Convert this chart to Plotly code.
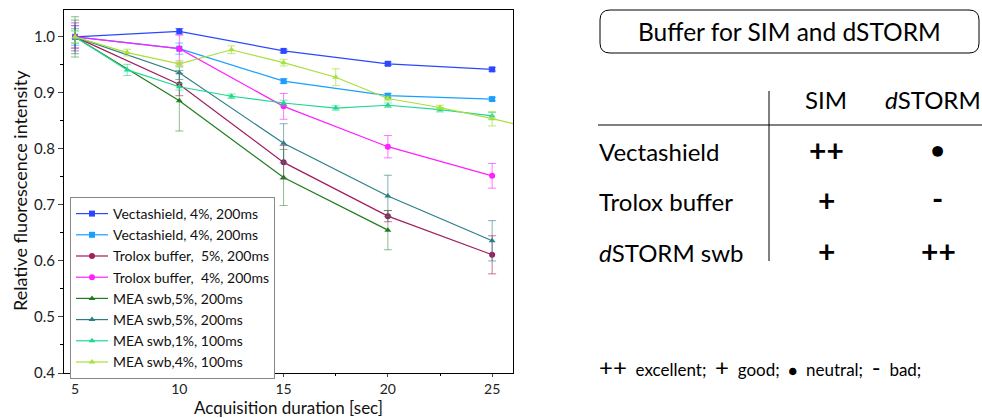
import plotly.graph_objects as go

# ---- data ----
x_long = [5, 10, 15, 20, 25]
x_mea5 = [5, 10, 15, 20]
x_fine = [5, 7.5, 10, 12.5, 15, 17.5, 20, 22.5, 25]
x_fine_ext = [5, 7.5, 10, 12.5, 15, 17.5, 20, 22.5, 25, 27.5]

names = ["Vectashield, 4%, 200ms", "Vectashield, 4%, 200ms", "Trolox buffer,  5%, 200ms",
         "Trolox buffer,  4%, 200ms", "MEA swb,5%, 200ms", "MEA swb,5%, 200ms",
         "MEA swb,1%, 100ms", "MEA swb,4%, 100ms"]

vecta_a = [1.0, 1.010, 0.975, 0.952, 0.942]
vecta_b = [1.0, 0.979, 0.921, 0.895, 0.889]
trolox_5 = [1.0, 0.915, 0.776, 0.680, 0.611]
trolox_4 = [1.0, 0.979, 0.876, 0.804, 0.752]
mea_5a = [1.0, 0.886, 0.749, 0.655]
mea_5b = [1.0, 0.936, 0.810, 0.716, 0.636]
mea_1 = [1.0, 0.941, 0.911, 0.894, 0.882, 0.873, 0.878, 0.870, 0.859]
mea_4 = [1.0, 0.972, 0.952, 0.977, 0.954, 0.928, 0.890, 0.874, 0.854, 0.832]

err_vecta_a = [0.02, 0.005, 0.003, 0.003, 0.003]
err_vecta_b = [0.015, 0.01, 0.004, 0.004, 0.003]
err_trolox_5 = [0.025, 0.02, 0.03, 0.01, 0.034]
err_trolox_4 = [0.02, 0.024, 0.023, 0.02, 0.022]
err_mea_5a = [0.036, 0.054, 0.05, 0.035]
err_mea_5b = [0.03, 0.012, 0.035, 0.037, 0.036]
err_mea_1 = [0.012, 0.01, 0.006, 0.004, 0.005, 0.004, 0.004, 0.004, 0.006]
err_mea_4 = [0.01, 0.006, 0.006, 0.007, 0.006, 0.015, 0.004, 0.004, 0.013, 0.0]

x_title = "Acquisition duration [sec]"
y_title = "Relative fluorescence intensity"

colors = ["#2b47ff", "#1a9fff", "#a01d5e", "#ff1fff", "#1e7d1e", "#2a7f86", "#1fd890", "#a8e03c"]
err_colors = ["rgba(43,71,255,0.6)", "rgba(26,159,255,0.6)", "rgba(160,29,94,0.6)", "rgba(255,31,255,0.6)",
              "rgba(30,125,30,0.5)", "rgba(42,127,134,0.6)", "rgba(31,216,144,0.6)", "rgba(168,224,60,0.7)"]
symbols = ["square", "square", "circle", "circle", "triangle-up", "triangle-up", "triangle-up", "triangle-up"]

xs = [x_long, x_long, x_long, x_long, x_mea5, x_long, x_fine, x_fine_ext]
ys = [vecta_a, vecta_b, trolox_5, trolox_4, mea_5a, mea_5b, mea_1, mea_4]
errs = [err_vecta_a, err_vecta_b, err_trolox_5, err_trolox_4, err_mea_5a, err_mea_5b, err_mea_1, err_mea_4]

FONT = "Lato"

fig = go.Figure()
for i in range(8):
    fig.add_trace(go.Scatter(
        x=xs[i], y=ys[i], name=names[i], mode="lines+markers",
        line=dict(color=colors[i], width=1.2),
        marker=dict(symbol=symbols[i], size=6, color=colors[i]),
        error_y=dict(type="data", array=errs[i], color=err_colors[i], thickness=1, width=4),
    ))

# pixel -> paper helpers (plot area: x 64..513, y 10..373)
L, R, T, B = 64, 513, 10, 373
def px(X):
    return (X - L) / (R - L)
def py(Y):
    return (B - Y) / (B - T)

ann = []
def add_text(X, Y, text, size, xanchor="center", color="#000", angle=0, pad=1):
    ann.append(dict(x=px(X), y=py(Y), xref="paper", yref="paper", text=text, showarrow=False,
                    xanchor=xanchor, yanchor="middle", textangle=angle, borderpad=pad,
                    font=dict(family=FONT, size=size, color=color)))

# axis titles
add_text(288.5, 407.5, x_title, 17, color="#111", pad=0)
add_text(20, 191, y_title, 18, color="#111", angle=-90)

# table on the right
add_text(789, 31, "Buffer for SIM and dSTORM", 24.5)
add_text(826, 100, "SIM", 24)
add_text(933, 100, "<i>d</i>STORM", 24)
add_text(597, 151, "Vectashield", 24, xanchor="left")
add_text(597, 201, "Trolox buffer", 24, xanchor="left")
add_text(597, 252, "<i>d</i>STORM swb", 24, xanchor="left")
add_text(826, 150, "<b>++</b>", 30)
add_text(937, 149, "●", 22)
add_text(826, 200, "<b>+</b>", 30)
add_text(937, 198, "<b>-</b>", 30)
add_text(826, 251, "<b>+</b>", 30)
add_text(938, 251, "<b>++</b>", 30)
add_text(597, 366, "<span style='font-size:24px'>++</span>  excellent;  "
                   "<span style='font-size:24px'>+</span>  good;  "
                   "<span style='font-size:15px'>●</span>  neutral;  "
                   "<span style='font-size:24px'>-</span>  bad;", 17, xanchor="left")

shapes = []
# rounded rectangle around title
x0, x1, y0, y1, r = 600, 979, 10, 53, 10
path = (f"M {px(x0 + r)} {py(y0)} L {px(x1 - r)} {py(y0)} Q {px(x1)} {py(y0)} {px(x1)} {py(y0 + r)} "
        f"L {px(x1)} {py(y1 - r)} Q {px(x1)} {py(y1)} {px(x1 - r)} {py(y1)} "
        f"L {px(x0 + r)} {py(y1)} Q {px(x0)} {py(y1)} {px(x0)} {py(y1 - r)} "
        f"L {px(x0)} {py(y0 + r)} Q {px(x0)} {py(y0)} {px(x0 + r)} {py(y0)} Z")
shapes.append(dict(type="path", xref="paper", yref="paper", path=path, line=dict(color="#000", width=1)))
shapes.append(dict(type="line", xref="paper", yref="paper", x0=px(598), x1=px(982), y0=py(125), y1=py(125),
                   line=dict(color="#000", width=1)))
shapes.append(dict(type="line", xref="paper", yref="paper", x0=px(769), x1=px(769), y0=py(91), y1=py(261),
                   line=dict(color="#000", width=1)))

fig.update_layout(
    width=982, height=418,
    margin=dict(l=L, r=982 - R, t=T, b=418 - B),
    paper_bgcolor="white", plot_bgcolor="white",
    font=dict(family=FONT, size=14, color="#222"),
    showlegend=True,
    legend=dict(x=px(70), y=py(197), xanchor="left", yanchor="top",
                bordercolor="#888", borderwidth=1, bgcolor="white",
                font=dict(family=FONT, size=14, color="#111"), itemwidth=32,
                tracegroupgap=0),
    annotations=ann, shapes=shapes,
)
fig.update_xaxes(range=[4.47, 26.0], tickvals=[5, 10, 15, 20, 25], ticks="outside", ticklen=3,
                 showline=True, linecolor="#000", linewidth=1, mirror=True, showgrid=False, zeroline=False,
                 automargin=False,
                 minor=dict(dtick=2.5, tick0=0, ticks="outside", ticklen=2, tickcolor="#000"),
                 tickfont=dict(size=14, family=FONT))
fig.update_yaxes(range=[0.4, 1.048], dtick=0.1, tickformat=".1f", ticks="outside", ticklen=5,
                 showline=True, linecolor="#000", linewidth=1, mirror=True, showgrid=False, zeroline=False,
                 automargin=False,
                 minor=dict(dtick=0.05, ticks="outside", ticklen=3, tickcolor="#000"),
                 tickfont=dict(size=15, family=FONT))

fig.write_html("out.html")
